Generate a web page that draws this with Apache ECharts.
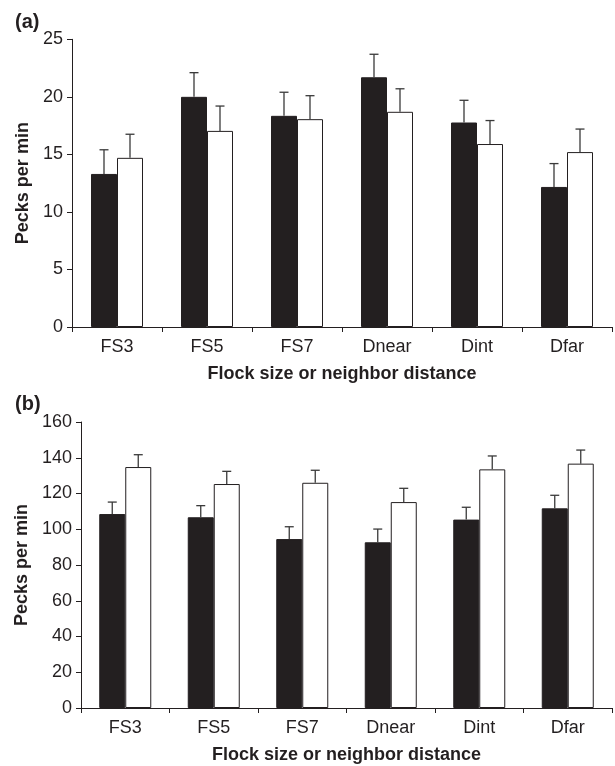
<!DOCTYPE html>
<html>
<head>
<meta charset="utf-8">
<script src="https://cdn.jsdelivr.net/npm/echarts@6/dist/echarts.min.js"></script>
<style>
html,body{margin:0;padding:0;background:#fff;}
#c{width:615px;height:766px;}
</style>
</head>
<body>
<div id="c"></div>
<script>
const categories = ['FS3', 'FS5', 'FS7', 'Dnear', 'Dint', 'Dfar'];
// Panel (a)
const aBlack = [13.3, 20.0, 18.35, 21.7, 17.77, 12.17];
const aBlackErr = [2.1, 2.1, 2.05, 2.0, 1.93, 2.03];
const aWhite = [14.7, 17.04, 18.06, 18.7, 15.9, 15.2];
const aWhiteErr = [2.05, 2.16, 2.04, 2.0, 2.04, 2.0];
const aTicks = [0, 5, 10, 15, 20, 25];
// Panel (b)
const bBlack = [108.5, 106.7, 94.5, 92.7, 105.4, 111.7];
const bBlackErr = [6.7, 6.5, 6.9, 7.4, 6.9, 7.3];
const bWhite = [134.8, 125.3, 126.0, 115.2, 133.5, 136.7];
const bWhiteErr = [6.9, 7.1, 7.0, 7.7, 7.5, 7.6];
const bTicks = [0, 20, 40, 60, 80, 100, 120, 140, 160];

const INK = '#231f20';
const FONT = 'Liberation Sans, Arial, sans-serif';
const BW = 26;

function errSeries(vals, errs, idx, side) {
  return {
    type: 'custom',
    xAxisIndex: idx, yAxisIndex: idx,
    z: 5,
    silent: true,
    clip: false,
    data: vals.map((v, i) => [i, v, errs[i]]),
    renderItem: function (params, api) {
      const x = api.value(0), y = api.value(1), e = api.value(2);
      const p0 = api.coord([x, y]);
      const p1 = api.coord([x, y + e]);
      const cx = p0[0] + side * BW / 2;
      const st = { stroke: '#3a3a3a', lineWidth: 1.3 };
      return {
        type: 'group',
        children: [
          { type: 'line', shape: { x1: cx, y1: p0[1], x2: cx, y2: p1[1] }, style: st },
          { type: 'line', shape: { x1: cx - 4.5, y1: p1[1], x2: cx + 4.5, y2: p1[1] }, style: st }
        ]
      };
    }
  };
}

function xAx(idx) {
  return {
    type: 'category', gridIndex: idx, data: categories,
    name: 'Flock size or neighbor distance', nameLocation: 'middle', nameGap: 38,
    nameTextStyle: { fontFamily: FONT, fontSize: 18, fontWeight: 'bold', color: INK },
    axisLine: { lineStyle: { color: INK, width: 1 } },
    axisTick: { show: true, length: 5, alignWithLabel: false, lineStyle: { color: INK } },
    axisLabel: { fontFamily: FONT, fontSize: 18, color: INK, margin: 11, interval: 0 },
    splitLine: { show: false }
  };
}
function yAx(idx, ticks, gap) {
  const max = ticks[ticks.length - 1];
  return {
    type: 'value', gridIndex: idx, min: ticks[0], max: max, interval: ticks[1] - ticks[0],
    name: 'Pecks per min', nameLocation: 'middle', nameGap: gap,
    nameTextStyle: { fontFamily: FONT, fontSize: 18, fontWeight: 'bold', color: INK },
    axisLine: { show: true, lineStyle: { color: INK, width: 1 } },
    axisTick: { show: true, length: 5, lineStyle: { color: INK } },
    axisLabel: { fontFamily: FONT, fontSize: 18, color: INK, margin: 9 },
    splitLine: { show: false }
  };
}
function barS(vals, idx, fill) {
  return {
    type: 'bar', xAxisIndex: idx, yAxisIndex: idx, data: vals,
    barWidth: BW, barGap: '0%',
    itemStyle: { color: fill, borderColor: INK, borderWidth: 1 },
    emphasis: { disabled: true }, silent: true
  };
}

const chart = echarts.init(document.getElementById('c'), null, { renderer: 'canvas' });
chart.setOption({
  animation: false,
  backgroundColor: '#fff',
  textStyle: { fontFamily: FONT },
  graphic: [
    { type: 'text', left: 15, top: 12, style: { text: '(a)', font: 'bold 20px ' + FONT, fill: INK } },
    { type: 'text', left: 15, top: 394, style: { text: '(b)', font: 'bold 20px ' + FONT, fill: INK } }
  ],
  grid: [
    { left: 72, right: 3, top: 39.3, bottom: 439 },
    { left: 81, right: 3, top: 422, bottom: 58 }
  ],
  xAxis: [xAx(0), xAx(1)],
  yAxis: [yAx(0, aTicks, 39), yAx(1, bTicks, 47)],
  series: [
    barS(aBlack, 0, INK),
    barS(aWhite, 0, '#ffffff'),
    errSeries(aBlack, aBlackErr, 0, -1),
    errSeries(aWhite, aWhiteErr, 0, 1),
    barS(bBlack, 1, INK),
    barS(bWhite, 1, '#ffffff'),
    errSeries(bBlack, bBlackErr, 1, -1),
    errSeries(bWhite, bWhiteErr, 1, 1)
  ]
});
</script>
</body>
</html>
